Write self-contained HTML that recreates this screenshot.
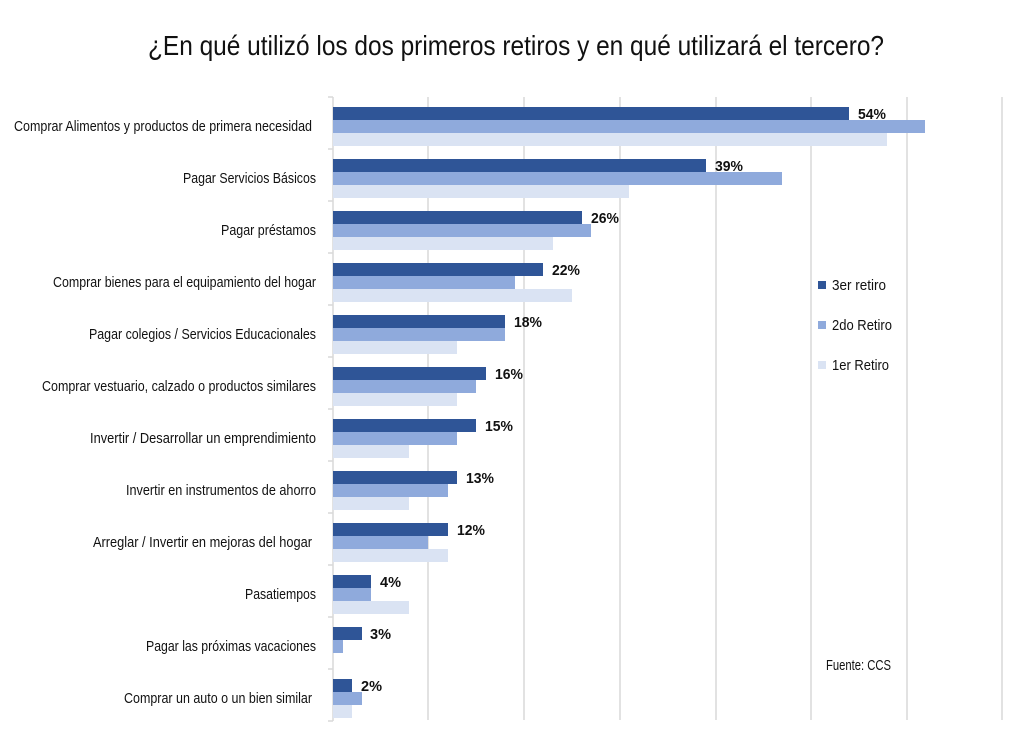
<!DOCTYPE html>
<html><head><meta charset="utf-8"><style>
html,body{margin:0;padding:0;background:#fff;width:1024px;height:744px;overflow:hidden}
text{font-family:"Liberation Sans Narrow","Liberation Sans",sans-serif;fill:#111}
</style></head><body>
<svg width="1024" height="744" viewBox="0 0 1024 744" xmlns="http://www.w3.org/2000/svg">
<text x="148" y="55" font-size="28" textLength="736" lengthAdjust="spacingAndGlyphs">¿En qué utilizó los dos primeros retiros y en qué utilizará el tercero?</text>
<g stroke="#d9d9d9" stroke-width="1.5">
<line x1="428" y1="97" x2="428" y2="720"/><line x1="524" y1="97" x2="524" y2="720"/><line x1="620" y1="97" x2="620" y2="720"/><line x1="716" y1="97" x2="716" y2="720"/><line x1="811" y1="97" x2="811" y2="720"/><line x1="907" y1="97" x2="907" y2="720"/><line x1="1002" y1="97" x2="1002" y2="720"/>
<line x1="333" y1="97" x2="333" y2="721"/>
<line x1="328" y1="97" x2="333" y2="97"/><line x1="328" y1="149" x2="333" y2="149"/><line x1="328" y1="201" x2="333" y2="201"/><line x1="328" y1="253" x2="333" y2="253"/><line x1="328" y1="305" x2="333" y2="305"/><line x1="328" y1="357" x2="333" y2="357"/><line x1="328" y1="409" x2="333" y2="409"/><line x1="328" y1="461" x2="333" y2="461"/><line x1="328" y1="513" x2="333" y2="513"/><line x1="328" y1="565" x2="333" y2="565"/><line x1="328" y1="617" x2="333" y2="617"/><line x1="328" y1="669" x2="333" y2="669"/><line x1="328" y1="721" x2="333" y2="721"/>
</g>
<rect x="818" y="281" width="8" height="8" fill="#2F5597"/><text x="832" y="290" font-size="15" textLength="54" lengthAdjust="spacingAndGlyphs">3er retiro</text>
<rect x="818" y="321" width="8" height="8" fill="#8FAADC"/><text x="832" y="330" font-size="15" textLength="60" lengthAdjust="spacingAndGlyphs">2do Retiro</text>
<rect x="818" y="361" width="8" height="8" fill="#DAE3F3"/><text x="832" y="370" font-size="15" textLength="57" lengthAdjust="spacingAndGlyphs">1er Retiro</text>
<text x="826" y="670" font-size="15" textLength="65" lengthAdjust="spacingAndGlyphs">Fuente: CCS</text>
<g>
<rect x="333" y="107" width="516" height="13" fill="#2F5597"/><rect x="333" y="120" width="592" height="13" fill="#8FAADC"/><rect x="333" y="133" width="554" height="13" fill="#DAE3F3"/>
<rect x="333" y="159" width="373" height="13" fill="#2F5597"/><rect x="333" y="172" width="449" height="13" fill="#8FAADC"/><rect x="333" y="185" width="296" height="13" fill="#DAE3F3"/>
<rect x="333" y="211" width="249" height="13" fill="#2F5597"/><rect x="333" y="224" width="258" height="13" fill="#8FAADC"/><rect x="333" y="237" width="220" height="13" fill="#DAE3F3"/>
<rect x="333" y="263" width="210" height="13" fill="#2F5597"/><rect x="333" y="276" width="182" height="13" fill="#8FAADC"/><rect x="333" y="289" width="239" height="13" fill="#DAE3F3"/>
<rect x="333" y="315" width="172" height="13" fill="#2F5597"/><rect x="333" y="328" width="172" height="13" fill="#8FAADC"/><rect x="333" y="341" width="124" height="13" fill="#DAE3F3"/>
<rect x="333" y="367" width="153" height="13" fill="#2F5597"/><rect x="333" y="380" width="143" height="13" fill="#8FAADC"/><rect x="333" y="393" width="124" height="13" fill="#DAE3F3"/>
<rect x="333" y="419" width="143" height="13" fill="#2F5597"/><rect x="333" y="432" width="124" height="13" fill="#8FAADC"/><rect x="333" y="445" width="76" height="13" fill="#DAE3F3"/>
<rect x="333" y="471" width="124" height="13" fill="#2F5597"/><rect x="333" y="484" width="115" height="13" fill="#8FAADC"/><rect x="333" y="497" width="76" height="13" fill="#DAE3F3"/>
<rect x="333" y="523" width="115" height="13" fill="#2F5597"/><rect x="333" y="536" width="95" height="13" fill="#8FAADC"/><rect x="333" y="549" width="115" height="13" fill="#DAE3F3"/>
<rect x="333" y="575" width="38" height="13" fill="#2F5597"/><rect x="333" y="588" width="38" height="13" fill="#8FAADC"/><rect x="333" y="601" width="76" height="13" fill="#DAE3F3"/>
<rect x="333" y="627" width="29" height="13" fill="#2F5597"/><rect x="333" y="640" width="10" height="13" fill="#8FAADC"/>
<rect x="333" y="679" width="19" height="13" fill="#2F5597"/><rect x="333" y="692" width="29" height="13" fill="#8FAADC"/><rect x="333" y="705" width="19" height="13" fill="#DAE3F3"/>
</g>
<g font-size="15" lengthAdjust="spacingAndGlyphs">
<text x="14" y="131" textLength="298" lengthAdjust="spacingAndGlyphs">Comprar Alimentos y productos de primera necesidad</text>
<text x="183" y="183" textLength="133" lengthAdjust="spacingAndGlyphs">Pagar Servicios Básicos</text>
<text x="221" y="235" textLength="95" lengthAdjust="spacingAndGlyphs">Pagar préstamos</text>
<text x="53" y="287" textLength="263" lengthAdjust="spacingAndGlyphs">Comprar bienes para el equipamiento del hogar</text>
<text x="89" y="339" textLength="227" lengthAdjust="spacingAndGlyphs">Pagar colegios / Servicios Educacionales</text>
<text x="42" y="391" textLength="274" lengthAdjust="spacingAndGlyphs">Comprar vestuario, calzado o productos similares</text>
<text x="90" y="443" textLength="226" lengthAdjust="spacingAndGlyphs">Invertir / Desarrollar un emprendimiento</text>
<text x="126" y="495" textLength="190" lengthAdjust="spacingAndGlyphs">Invertir en instrumentos de ahorro</text>
<text x="93" y="547" textLength="219" lengthAdjust="spacingAndGlyphs">Arreglar / Invertir en mejoras del hogar</text>
<text x="245" y="599" textLength="71" lengthAdjust="spacingAndGlyphs">Pasatiempos</text>
<text x="146" y="651" textLength="170" lengthAdjust="spacingAndGlyphs">Pagar las próximas vacaciones</text>
<text x="124" y="703" textLength="188" lengthAdjust="spacingAndGlyphs">Comprar un auto o un bien similar</text>
</g>
<g font-size="15" font-weight="bold">
<text x="858" y="119" textLength="28" lengthAdjust="spacingAndGlyphs">54%</text>
<text x="715" y="171" textLength="28" lengthAdjust="spacingAndGlyphs">39%</text>
<text x="591" y="223" textLength="28" lengthAdjust="spacingAndGlyphs">26%</text>
<text x="552" y="275" textLength="28" lengthAdjust="spacingAndGlyphs">22%</text>
<text x="514" y="327" textLength="28" lengthAdjust="spacingAndGlyphs">18%</text>
<text x="495" y="379" textLength="28" lengthAdjust="spacingAndGlyphs">16%</text>
<text x="485" y="431" textLength="28" lengthAdjust="spacingAndGlyphs">15%</text>
<text x="466" y="483" textLength="28" lengthAdjust="spacingAndGlyphs">13%</text>
<text x="457" y="535" textLength="28" lengthAdjust="spacingAndGlyphs">12%</text>
<text x="380" y="587" textLength="21" lengthAdjust="spacingAndGlyphs">4%</text>
<text x="370" y="639" textLength="21" lengthAdjust="spacingAndGlyphs">3%</text>
<text x="361" y="691" textLength="21" lengthAdjust="spacingAndGlyphs">2%</text>
</g>
</svg>
</body></html>
